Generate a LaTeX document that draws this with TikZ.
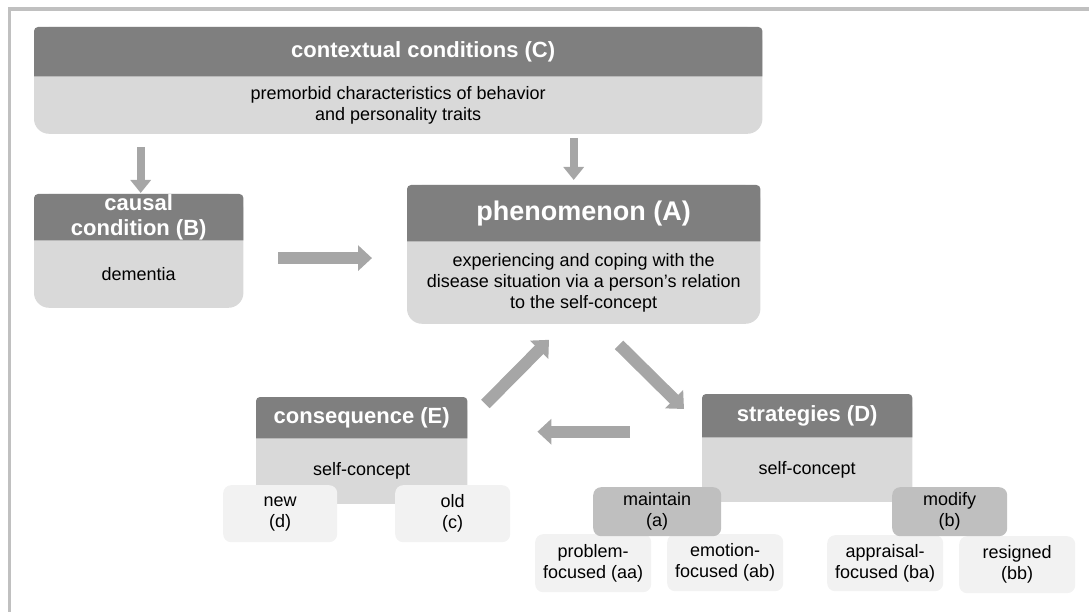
\documentclass[tikz,border=0pt]{standalone}
\usepackage{fontspec}
\setmainfont{Liberation Sans}
\usepackage{xcolor}
\usetikzlibrary{positioning, arrows.meta, backgrounds}
\definecolor{headGray}{RGB}{127,127,127}
\definecolor{bodyGray}{RGB}{217,217,217}
\definecolor{arrowGray}{RGB}{166,166,166}
\definecolor{choiceGray}{RGB}{191,191,191}
\definecolor{leafGray}{RGB}{242,242,242}
\definecolor{frameGray}{RGB}{192,192,192}

\begin{document}
\begin{tikzpicture}[
    x=1pt, y=-1pt,
    header/.style={
        anchor=north west,
        inner sep=0pt,
        text=white,
        align=center,
        font=\bfseries\fontsize{22}{25}\selectfont
    },
    content/.style={
        inner sep=0pt,
        align=center,
        font=\fontsize{18}{21}\selectfont
    },
    choice/.style={
        anchor=north west,
        rectangle,
        rounded corners=8pt,
        fill=choiceGray,
        inner sep=0pt,
        align=center,
        font=\fontsize{18}{21}\selectfont
    },
    leaf/.style={
        anchor=north west,
        rectangle,
        rounded corners=8pt,
        fill=leafGray,
        inner sep=0pt,
        align=center,
        font=\fontsize{18}{21}\selectfont
    },
    slimarrow/.style={
        draw=arrowGray,
        line width=8pt,
        -{Triangle[width=20pt, length=13pt]}
    },
    fatarrow/.style={
        draw=arrowGray,
        line width=12pt,
        -{Triangle[width=25pt, length=14pt]}
    }
]

    \useasboundingbox (0,0) rectangle (1089,612);
    \draw[frameGray, line width=3.5pt] (9.5,612) -- (9.5,9) -- (1089,9);

    \node[header, minimum width=728pt, minimum height=49pt] (C-head) at (34,27) {\hspace*{50pt}contextual conditions (C)};
    \node[content, minimum width=728pt, minimum height=57pt, below=0pt of C-head] (C-body) {premorbid characteristics of behavior\\and personality traits};

    \node[header, minimum width=209pt, minimum height=46pt] (B-head) at (34,194) {causal\\condition (B)};
    \node[content, minimum width=209pt, minimum height=67pt, below=0pt of B-head] (B-body) {dementia};

    \node[header, minimum width=353pt, minimum height=56pt, font=\bfseries\fontsize{27}{30}\selectfont] (A-head) at (407,185) {phenomenon (A)};
    \node[content, minimum width=353pt, minimum height=82pt, below=0pt of A-head] (A-body) {experiencing and coping with the\\disease situation via a person’s relation\\to the self-concept};

    \node[header, minimum width=211pt, minimum height=41pt] (E-head) at (256,397) {consequence (E)};
    \node[content, minimum width=211pt, minimum height=65pt, below=0pt of E-head] (E-body) {self-concept};

    \node[header, minimum width=210pt, minimum height=43pt] (D-head) at (702,394) {strategies (D)};
    \node[content, minimum width=210pt, minimum height=64pt, below=0pt of D-head] (D-body) {self-concept};

    \begin{scope}[on background layer]
        \foreach \n in {C,B,A,E,D} {
            \fill[bodyGray, rounded corners=15pt] (\n-head.north west) rectangle (\n-body.south east);
            \fill[headGray] (\n-head.south west) [rounded corners=4pt] -- (\n-head.north west) -- (\n-head.north east) [sharp corners] -- (\n-head.south east) -- cycle;
        }
    \end{scope}

    % outcomes of the consequence
    \node[leaf, minimum width=114pt, minimum height=57pt] (new) at (223,485) {new\\(d)};
    \node[leaf, minimum width=115pt, minimum height=57pt] (old) at (395,485) {old\\(c)};

    % strategy branches
    \node[leaf, minimum width=116pt, minimum height=58pt] (problem) at (535,534) {problem-\\focused (aa)};
    \node[leaf, minimum width=116pt, minimum height=57pt] (emotion) at (667,534) {emotion-\\focused (ab)};
    \node[leaf, minimum width=116pt, minimum height=56pt] (appraisal) at (827,535) {appraisal-\\focused (ba)};
    \node[leaf, minimum width=116pt, minimum height=57pt] (resigned) at (959,536) {resigned\\(bb)};
    \node[choice, minimum width=128pt, minimum height=49pt] (maintain) at (593,487) {maintain\\(a)};
    \node[choice, minimum width=115pt, minimum height=49pt] (modify) at (892,487) {modify\\(b)};

    \draw[slimarrow, shorten <=13pt, shorten >=1pt] ([xshift=2pt]B-head.north |- C-body.south) -- ([xshift=2pt]B-head.north);
    \draw[slimarrow, shorten <=4pt, shorten >=5pt] ([xshift=-10pt]A-head.north |- C-body.south) -- ([xshift=-10pt]A-head.north);
    \draw[fatarrow, shorten <=35pt, shorten >=35pt] ([yshift=16pt]B-body.east) -- ([yshift=16pt]B-body.east -| A-body.west);
    \draw[fatarrow] ([shift={(18pt,-7pt)}]E-head.north east) -- ([shift={(142pt,-16pt)}]A-body.south west);
    \draw[fatarrow] ([shift={(212pt,-21pt)}]A-body.south west) -- ([shift={(-18pt,-15pt)}]D-head.north west);
    \draw[fatarrow, shorten <=72pt, shorten >=70pt] ([yshift=-16pt]D-head.west) -- ([yshift=-16pt]D-head.west -| E-head.east);

\end{tikzpicture}
\end{document}
